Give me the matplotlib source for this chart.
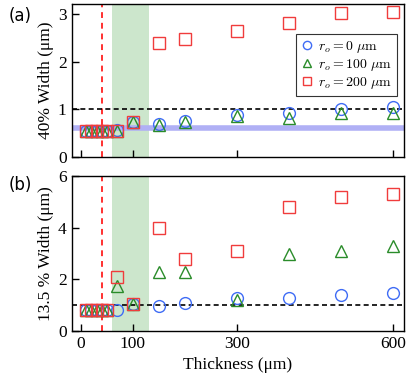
import matplotlib
matplotlib.use("Agg")
from matplotlib import pyplot as plt

plt.rcParams['font.family'] = ['Liberation Serif', 'DejaVu Serif']
plt.rcParams['mathtext.fontset'] = 'cm'

thickness = [10, 20, 30, 40, 50, 70, 100, 150, 200, 300, 400, 500, 600]

# panel (a): 40% width
a_r0 = [0.55, 0.55, 0.55, 0.55, 0.55, 0.56, 0.73, 0.69, 0.76, 0.89, 0.92, 1.0, 1.04]
a_r100 = [0.55, 0.55, 0.55, 0.55, 0.55, 0.55, 0.73, 0.67, 0.74, 0.86, 0.81, 0.92, 0.93]
a_r200 = [0.55, 0.55, 0.55, 0.55, 0.55, 0.55, 0.73, 2.39, 2.48, 2.64, 2.82, 3.02, 3.05]

# panel (b): 13.5% width
b_r0 = [0.8, 0.8, 0.8, 0.8, 0.8, 0.81, 1.05, 0.97, 1.07, 1.27, 1.29, 1.40, 1.46]
b_r100 = [0.8, 0.8, 0.8, 0.8, 0.8, 1.76, 1.05, 2.3, 2.3, 1.2, 2.97, 3.11, 3.3]
b_r200 = [0.8, 0.8, 0.8, 0.8, 0.8, 2.1, 1.05, 3.98, 2.79, 3.11, 4.8, 5.18, 5.3]

labels = [r'$r_o = 0\ \mu\mathrm{m}$', r'$r_o = 100\ \mu\mathrm{m}$', r'$r_o = 200\ \mu\mathrm{m}$']
colors = ['#3f6cf5', '#2a8c2a', '#f03c3c']
markers = ['o', '^', 's']

fig = plt.figure(figsize=(4.16, 3.77), dpi=100)
ax1 = fig.add_axes([0.172, 0.584, 0.799, 0.406])
ax2 = fig.add_axes([0.172, 0.122, 0.799, 0.411])

for ax, series, ylim, yticks, ylabel in [
        (ax1, [a_r0, a_r100, a_r200], 3.22, [0, 1, 2, 3], '40% Width (μm)'),
        (ax2, [b_r0, b_r100, b_r200], 6.0, [0, 2, 4, 6], '13.5 % Width (μm)')]:
    ax.axvspan(60, 130, color='#cce6cc', zorder=0, lw=0)
    ax.axvline(40, color='#ff3030', ls=(0, (3, 2.5)), lw=1.4, zorder=1)
    ax.axhline(1, color='black', ls=(0, (3, 2)), lw=1.2, zorder=1)
    if ax is ax1:
        ax.axhline(0.61, color='#b0b0f5', lw=4, zorder=1)
    for y, c, m, lab in zip(series, colors, markers, labels):
        ax.plot(thickness, y, ls='none', marker=m, mfc='none', mec=c,
                mew=1.0, ms=8.5, label=lab, zorder=3)
    ax.set_xlim(-18, 621)
    ax.set_ylim(0, ylim)
    ax.set_xticks([0, 100, 300, 600])
    ax.set_yticks(yticks)
    ax.tick_params(direction='in', length=5, width=1, labelsize=12.5)
    ax.set_ylabel(ylabel, fontsize=12.5, labelpad=3)
    for s in ax.spines.values():
        s.set_linewidth(1)

ax1.tick_params(labelbottom=False)
ax2.set_xlabel('Thickness (μm)', fontsize=12.5)

leg = ax1.legend(loc='upper right', bbox_to_anchor=(0.978, 0.804), borderaxespad=0,
                 fontsize=10, fancybox=False, edgecolor='#333333', framealpha=1,
                 handletextpad=0.3, handlelength=0.9, labelspacing=0.15, borderpad=0.35,
                 markerscale=0.7)
leg.get_frame().set_linewidth(0.8)

fig.text(0.02, 0.945, '(a)', fontsize=12, family='DejaVu Sans')
fig.text(0.02, 0.495, '(b)', fontsize=12, family='DejaVu Sans')

fig.savefig('out.png', dpi=100)
